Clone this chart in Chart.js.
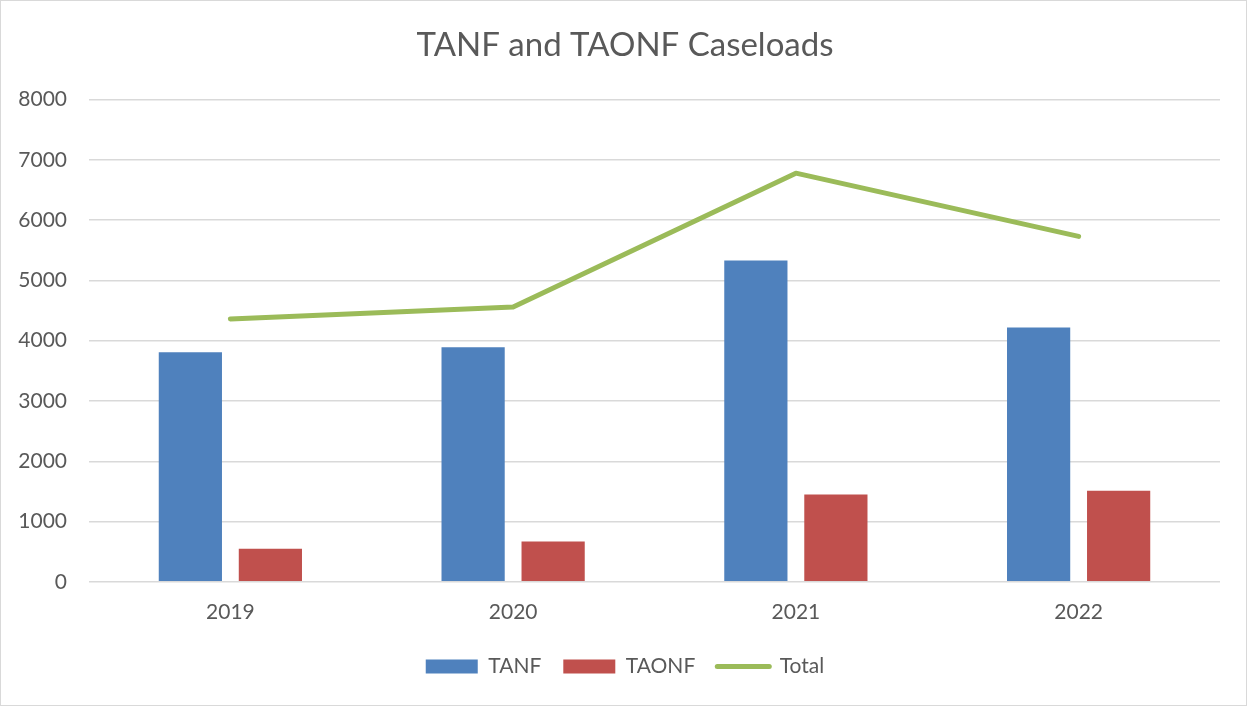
<!DOCTYPE html>
<html>
<head>
<meta charset="utf-8">
<script src="https://cdn.jsdelivr.net/npm/chart.js@4/dist/chart.umd.min.js"></script>
<style>
  body { margin: 0; background: #fff; }
  .wrap { width: 1247px; height: 706px; box-sizing: border-box; border: 1px solid #d9d9d9; }
</style>
</head>
<body>
<div class="wrap"><canvas id="chart"></canvas></div>
<script>
const years = ['2019', '2020', '2021', '2022'];
const tanf = [3810, 3890, 5330, 4220];
const taonf = [550, 670, 1450, 1510];
const total = [4360, 4560, 6780, 5730];

const azul = '#4f81bd';
const vermelho = '#c0504d';
const verde = '#9bbb59';
const texto = '#595959';

Chart.defaults.font.family = 'Lato, "Open Sans", sans-serif';
Chart.defaults.color = texto;

const ctx = document.getElementById('chart').getContext('2d');
new Chart(ctx, {
    type: 'bar',
    data: {
        labels: years,
        datasets: [
            { label: 'TANF', data: tanf, backgroundColor: azul, categoryPercentage: 0.566, barPercentage: 0.79 },
            { label: 'TAONF', data: taonf, backgroundColor: vermelho, categoryPercentage: 0.566, barPercentage: 0.79 },
            {
                type: 'line', label: 'Total', data: total,
                borderColor: verde, backgroundColor: verde, borderWidth: 5,
                borderCapStyle: 'round', borderJoinStyle: 'round',
                pointRadius: 0, pointHoverRadius: 0, tension: 0
            }
        ]
    },
    options: {
        responsive: true,
        maintainAspectRatio: false,
        animation: false,
        layout: { padding: { left: 10, right: 7, top: 0, bottom: 18 } },
        plugins: {
            title: {
                display: true,
                text: 'TANF and TAONF Caseloads',
                color: texto,
                font: { size: 33, weight: 'normal' },
                padding: { top: 25, bottom: 34 }
            },
            legend: {
                position: 'bottom',
                labels: {
                    usePointStyle: true,
                    pointStyleWidth: 52,
                    boxHeight: 14,
                    padding: 22,
                    font: { size: 21 },
                    color: texto,
                    generateLabels(chart) {
                        const items = Chart.defaults.plugins.legend.labels.generateLabels(chart);
                        items.forEach(it => {
                            const ds = chart.data.datasets[it.datasetIndex];
                            if (ds.type === 'line') {
                                it.pointStyle = 'line';
                                it.lineWidth = 5;
                                it.lineCap = 'round';
                                it.strokeStyle = verde;
                            } else {
                                it.pointStyle = 'rect';
                                it.lineWidth = 0;
                            }
                        });
                        return items;
                    }
                }
            },
            tooltip: { enabled: false }
        },
        scales: {
            x: {
                grid: { display: false },
                border: { display: false },
                ticks: { font: { size: 21 }, color: texto, padding: 10 },
                afterFit(scale) { scale.height = scale.height - 1; }
            },
            y: {
                min: 0,
                max: 8000,
                ticks: {
                    stepSize: 1000, font: { size: 21 }, color: texto, padding: 22,
                    callback: v => String(v)
                },
                grid: { color: '#d9d9d9', lineWidth: 1.5, drawTicks: false },
                border: { display: false },
                afterFit(scale) { scale.width = 78; }
            },
            // espaço vazio à direita
            y2: {
                position: 'right',
                min: 0,
                max: 8000,
                ticks: { display: false },
                grid: { display: false },
                border: { display: false },
                afterFit(scale) { scale.width = 19; }
            }
        }
    }
});
</script>
</body>
</html>
